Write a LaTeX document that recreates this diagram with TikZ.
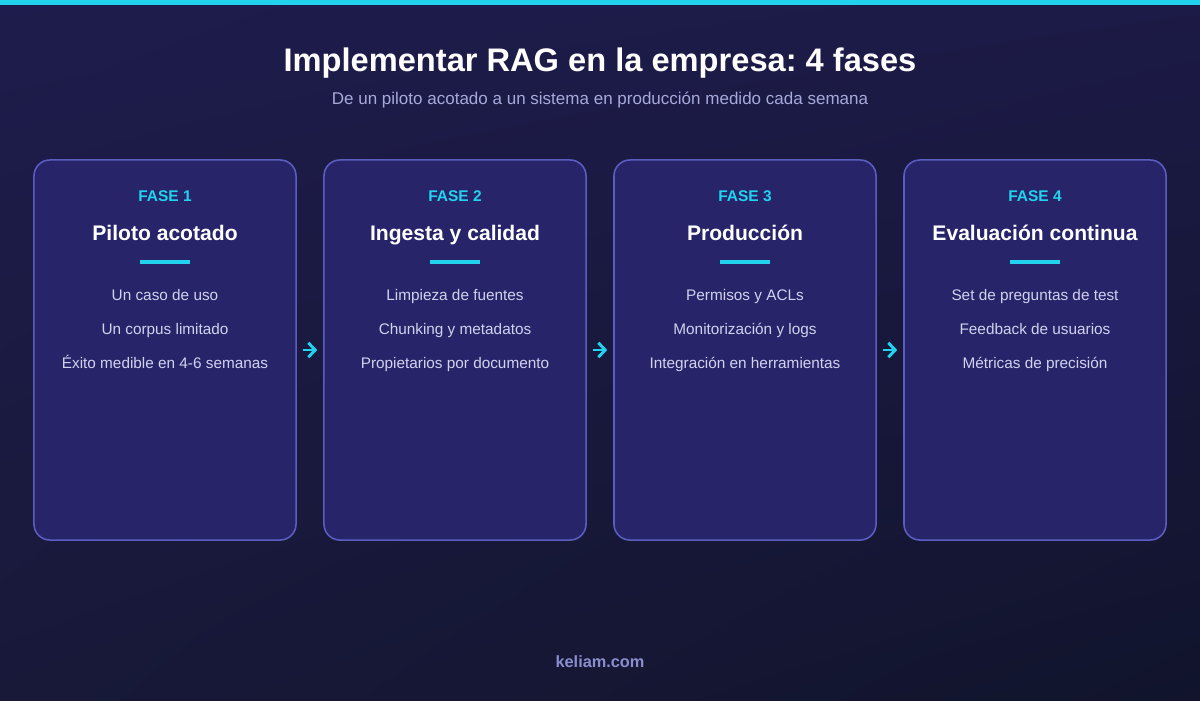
\documentclass[tikz,border=0pt]{standalone}
\usepackage{fontspec}
\setmainfont{Liberation Sans}
\usetikzlibrary{arrows.meta,calc,positioning,shadings}
\definecolor{BgTopL}{HTML}{1E1C4C}
\definecolor{BgTopR}{HTML}{1C1A46}
\definecolor{BgBotL}{HTML}{181939}
\definecolor{BgBotR}{HTML}{11142C}
\definecolor{AccentCyan}{HTML}{22D3EE}
\definecolor{CardFill}{HTML}{27246A}
\definecolor{CardLine}{HTML}{5B5EC0}
\definecolor{ItemInk}{HTML}{D2D2EE}
\definecolor{SubInk}{HTML}{A7A9DA}
\definecolor{FootInk}{HTML}{8A8ECF}
\frenchspacing
\tikzset{
  card/.style={rectangle, rounded corners=0.4cm, draw=CardLine, line width=1.1pt,
               fill=CardFill, minimum width=6.55cm, minimum height=9.5cm, inner sep=0pt},
  phase/.style={font=\fontsize{11}{13}\selectfont\bfseries, text=AccentCyan, inner sep=0pt, anchor=base},
  ctitle/.style={font=\fontsize{15}{18}\selectfont\bfseries, text=white, inner sep=0pt, anchor=base},
  item/.style={font=\fontsize{10.9}{13}\selectfont, text=ItemInk, inner sep=0pt, anchor=base},
  rulebar/.style={line width=2.3pt, draw=AccentCyan},
  flow/.style={-{Straight Barb[length=1.7mm, width=3.6mm]}, line width=2.1pt, draw=AccentCyan,
               shorten <=0.15cm, shorten >=0.15cm},
}

\begin{document}
\begin{tikzpicture}[x=0.025cm, y=-0.025cm,
  headline/.style={font=\fontsize{23.2}{28}\selectfont\bfseries, text=white, inner sep=0pt, anchor=base},
  subline/.style={font=\fontsize{12.1}{14}\selectfont, text=SubInk, inner sep=0pt, anchor=base},
  footline/.style={font=\fontsize{11.6}{13}\selectfont\bfseries, text=FootInk, inner sep=0pt, anchor=base},
]
\useasboundingbox (0,0) rectangle (1200,700);
% ---------------------------------------------------------------- background
\shade[upper left=BgTopL, upper right=BgTopR, lower left=BgBotL, lower right=BgBotR]
  (0,0) rectangle (1200,700);
\fill[AccentCyan] (0,0) rectangle (1200,5);
% ---------------------------------------------------------------- heading
\node[headline] (head) at (600,71) {Implementar RAG en la empresa: 4 fases};
\node[subline] (sub) at (600,104) {De un piloto acotado a un sistema en producción medido cada semana};
% ---------------------------------------------------------------- phase cards
\foreach \i/\ttl/\ia/\ib/\ic in {
  1/Piloto acotado/Un caso de uso/Un corpus limitado/Éxito medible en 4-6 semanas,
  2/Ingesta y calidad/Limpieza de fuentes/Chunking y metadatos/Propietarios por documento,
  3/Producción/Permisos y ACLs/Monitorización y logs/Integración en herramientas,
  4/Evaluación continua/Set de preguntas de test/Feedback de usuarios/Métricas de precisión} {
  \pgfmathsetmacro{\cx}{165+290*(\i-1)}
  \node[card] (card\i) at (\cx,350) {};
  \node[phase] (fase\i) at (\cx,201) {FASE \i};
  \node[ctitle] (ttl\i) at (\cx,240) {\ttl};
  \draw[rulebar] (\cx-25,262) -- (\cx+25,262);
  \node[item] (itema\i) at (\cx,300) {\ia};
  \node[item] (itemb\i) at (\cx,334) {\ib};
  \node[item] (itemc\i) at (\cx,368) {\ic};
}
% arrows between cards
\foreach \a/\b in {1/2,2/3,3/4} {\draw[flow] (card\a.east) -- (card\b.west);}
% ---------------------------------------------------------------- footer
\node[footline] (foot) at (600,667) {keliam.com};
\end{tikzpicture}
\end{document}
